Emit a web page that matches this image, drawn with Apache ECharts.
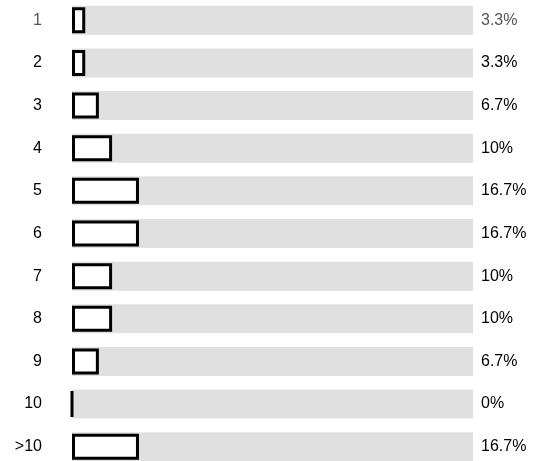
<!DOCTYPE html>
<html>
<head>
<meta charset="utf-8">
<script src="https://cdn.jsdelivr.net/npm/echarts@6/dist/echarts.min.js"></script>
<style>html,body{margin:0;padding:0;background:#fff;}#c{width:538px;height:461px;}</style>
</head>
<body>
<div id="c"></div>
<script>
const categories = ['1','2','3','4','5','6','7','8','9','10','>10'];
const values = [3.3, 3.3, 6.7, 10, 16.7, 16.7, 10, 10, 6.7, 0, 16.7];
const valueLabels = ['3.3%','3.3%','6.7%','10%','16.7%','16.7%','10%','10%','6.7%','0%','16.7%'];
const axisMax = 100;

const chart = echarts.init(document.getElementById('c'));
const font = 'Liberation Sans, Arial, sans-serif';
const grey = '#555';
const dark = '#000';
const catAxis = (show) => ({
  type: 'category', data: categories, inverse: true, show: show,
  axisLine: { show: false }, axisTick: { show: false },
  axisLabel: {
    margin: 30, fontSize: 16, fontFamily: font,
    color: function (v, i) { return i === 0 ? grey : dark; }
  }
});
chart.setOption({
  animation: false,
  grid: { left: 72, right: 65, top: -1, height: 469, outerBoundsMode: 'none', containLabel: false },
  xAxis: { type: 'value', min: 0, max: axisMax, show: false },
  yAxis: [catAxis(true), catAxis(false)],
  series: [
    {
      type: 'bar', barWidth: 29, yAxisIndex: 0, silent: true,
      data: categories.map((c, i) => i === 0 ? { value: axisMax, label: { color: grey } } : axisMax),
      itemStyle: { color: '#e0e0e0' },
      label: {
        show: true, position: 'right', distance: 8, fontSize: 16, fontFamily: font,
        formatter: p => valueLabels[p.dataIndex],
        color: dark
      },
      z: 1
    },
    {
      type: 'bar', barWidth: 26, yAxisIndex: 1,
      data: values,
      itemStyle: { color: '#fff', borderColor: '#000', borderWidth: 3 },
      z: 2
    }
  ]
});
</script>
</body>
</html>
